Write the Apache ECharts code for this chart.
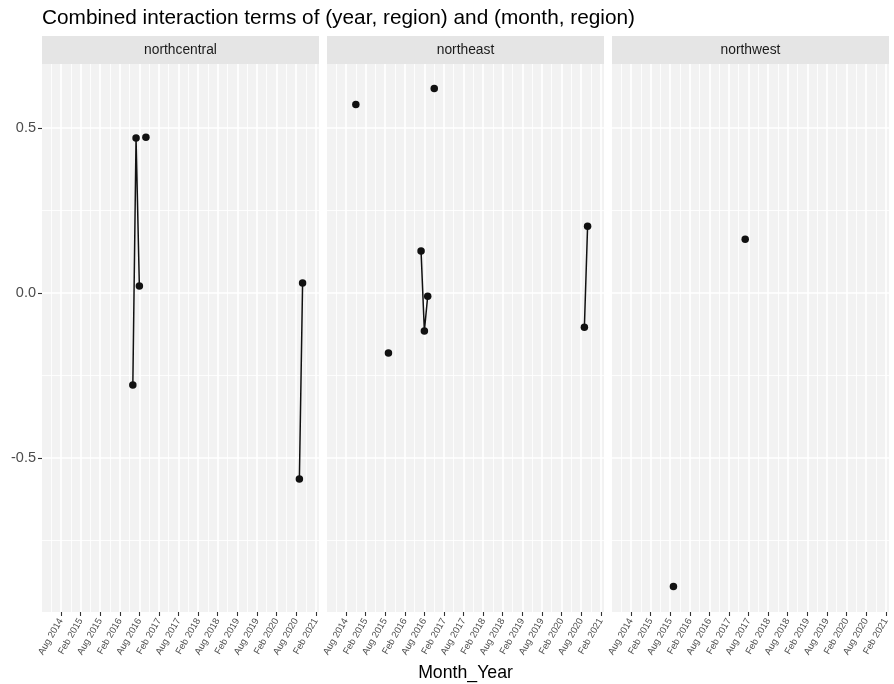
<!DOCTYPE html>
<html><head><meta charset="utf-8">
<script src="https://cdn.jsdelivr.net/npm/echarts@6/dist/echarts.min.js"></script>
<style>html,body{margin:0;padding:0;background:#fff}#c{width:894px;height:684px}</style>
</head><body><div id="c"></div>
<script>
const regions = ['northcentral', 'northeast', 'northwest'];
const northcentralMonths = ['2016-06', '2016-07', '2016-08', '2016-10', '2020-09', '2020-10'];
const northcentralValues = [-0.279, 0.470, 0.021, 0.472, -0.564, 0.030];
const northeastMonths = ['2014-11', '2015-09', '2016-07', '2016-08', '2016-09', '2016-11', '2020-09', '2020-10'];
const northeastValues = [0.571, -0.182, 0.127, -0.115, -0.010, 0.620, -0.104, 0.202];
const northwestMonths = ['2015-09', '2017-07'];
const northwestValues = [-0.890, 0.163];
const xTickLabels = ['Aug 2014', 'Feb 2015', 'Aug 2015', 'Feb 2016', 'Aug 2016', 'Feb 2017', 'Aug 2017',
  'Feb 2018', 'Aug 2018', 'Feb 2019', 'Aug 2019', 'Feb 2020', 'Aug 2020', 'Feb 2021'];
const xMinorMonths = ['2014-05', '2014-11', '2015-05', '2015-11', '2016-05', '2016-11', '2017-05',
  '2017-11', '2018-05', '2018-11', '2019-05', '2019-11', '2020-05', '2020-11'];
const yTickLabels = ['-0.5', '0.0', '0.5'];
const yMinorValues = [-0.75, -0.25, 0.25];
const xRange = ['2014-02-05', '2021-03-03'];
const yRange = [-0.967, 0.694];

const monthNames = {Jan:0,Feb:1,Mar:2,Apr:3,May:4,Jun:5,Jul:6,Aug:7,Sep:8,Oct:9,Nov:10,Dec:11};
function ymTs(s) { const p = s.split('-').map(Number); return Date.UTC(p[0], p[1] - 1, p[2] || 1); }
function labelTs(l) { const p = l.split(' '); return Date.UTC(Number(p[1]), monthNames[p[0]], 1); }
function mIdx(s) { const p = s.split('-').map(Number); return p[0] * 12 + p[1]; }

const xTickValues = xTickLabels.map(labelTs);
const labelMap = {}; xTickLabels.forEach((l, i) => labelMap[xTickValues[i]] = l);
const yTickValues = yTickLabels.map(Number);
const seriesData = [
  [northcentralMonths, northcentralValues],
  [northeastMonths, northeastValues],
  [northwestMonths, northwestValues]
];

const FONT = 'Liberation Sans, Arial, sans-serif';
const panelLeft = [42, 327, 612], panelW = 277, panelTop = 64, panelH = 548;
const grids = [], xAxes = [], yAxes = [], series = [], graphics = [];

regions.forEach((r, i) => {
  grids.push({left: panelLeft[i], top: panelTop, width: panelW, height: panelH,
    containLabel: false, outerBoundsMode: 'none',
    show: true, backgroundColor: '#F2F2F2', borderWidth: 0});
  xAxes.push({type: 'value', gridIndex: i, position: 'bottom', min: ymTs(xRange[0]), max: ymTs(xRange[1]),
    axisLine: {show: false, onZero: false}, splitLine: {show: false},
    axisTick: {show: true, customValues: xTickValues, length: 4, lineStyle: {color: '#333', width: 1.1}},
    axisLabel: {show: true, customValues: xTickValues, rotate: 60, fontSize: 9.5, color: '#4D4D4D',
      fontFamily: FONT, margin: 7, hideOverlap: false, formatter: v => labelMap[v] || ''}});
  yAxes.push({type: 'value', gridIndex: i, min: yRange[0], max: yRange[1],
    axisLine: {show: false, onZero: false}, splitLine: {show: false},
    axisTick: {show: i === 0, customValues: yTickValues, length: 4, lineStyle: {color: '#333', width: 1.1}},
    axisLabel: {show: i === 0, customValues: yTickValues, fontSize: 14.5, color: '#4D4D4D', fontFamily: FONT,
      margin: 6, formatter: v => { const k = yTickValues.indexOf(v); return k >= 0 ? yTickLabels[k] : ''; }}});
  const gl = [];
  xMinorMonths.forEach(m => gl.push({xAxis: ymTs(m), lineStyle: {width: 0.8}}));
  xTickValues.forEach(v => gl.push({xAxis: v, lineStyle: {width: 1.6}}));
  yMinorValues.forEach(v => gl.push({yAxis: v, lineStyle: {width: 0.8}}));
  yTickValues.forEach(v => gl.push({yAxis: v, lineStyle: {width: 1.6}}));
  const [months, vals] = seriesData[i];
  const pts = months.map((m, k) => [ymTs(m), vals[k]]);
  const lineData = [];
  months.forEach((m, k) => {
    if (k > 0 && mIdx(m) - mIdx(months[k - 1]) > 1) lineData.push([ymTs(m), null]);
    lineData.push(pts[k]);
  });
  series.push({type: 'line', xAxisIndex: i, yAxisIndex: i, data: [], z: 1, silent: true,
    markLine: {silent: true, symbol: 'none', z: 1, animation: false, label: {show: false},
      lineStyle: {color: '#FFFFFF', type: 'solid'}, emphasis: {disabled: true}, data: gl}});
  series.push({type: 'line', xAxisIndex: i, yAxisIndex: i, data: lineData, showSymbol: false,
    connectNulls: false, z: 3, lineStyle: {color: '#111111', width: 1.5}, animation: false});
  series.push({type: 'scatter', xAxisIndex: i, yAxisIndex: i, data: pts, symbolSize: 7.5, z: 4,
    itemStyle: {color: '#111111', opacity: 1}, animation: false});
  graphics.push({type: 'rect', left: panelLeft[i], top: 36, shape: {width: panelW, height: 28},
    style: {fill: '#E5E5E5'}});
  graphics.push({type: 'text', x: panelLeft[i] + panelW / 2, y: 50,
    style: {text: r, fill: '#1A1A1A', font: '13.8px ' + FONT, textAlign: 'center', textVerticalAlign: 'middle'}});
});
graphics.push({type: 'text', x: 42, y: 18, style: {text: 'Combined interaction terms of (year, region) and (month, region)',
  fill: '#000', font: '20.8px ' + FONT, textAlign: 'left', textVerticalAlign: 'middle'}});
graphics.push({type: 'text', x: 465.5, y: 673, style: {text: 'Month_Year',
  fill: '#000', font: '17.7px ' + FONT, textAlign: 'center', textVerticalAlign: 'middle'}});

const chart = echarts.init(document.getElementById('c'), null, {renderer: 'canvas'});
chart.setOption({animation: false, grid: grids, xAxis: xAxes, yAxis: yAxes, series: series, graphic: graphics});
</script></body></html>
